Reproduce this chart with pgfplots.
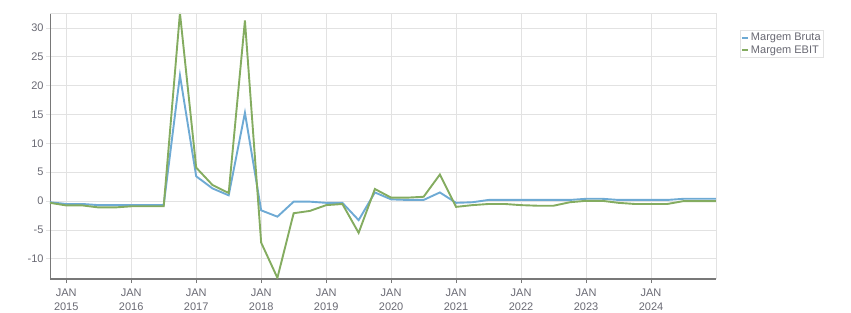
\documentclass[border=0pt]{standalone}
\usepackage{pgfplots}
\pgfplotsset{compat=1.18}
\usepackage{fontspec}
\setmainfont{Liberation Sans}
\definecolor{cBruta}{RGB}{110,170,212}
\definecolor{cEbit}{RGB}{132,172,96}
\definecolor{gridc}{RGB}{226,226,226}
\definecolor{axc}{RGB}{120,120,120}
\definecolor{txt}{RGB}{105,105,115}
\begin{document}
\begin{tikzpicture}
\useasboundingbox (-50bp,-34bp) rectangle (801bp,279bp);
\begin{axis}[
  at={(0,0)}, anchor=south west,
  scale only axis, width=666bp, height=266bp,
  xmin=2014.75, xmax=2025, ymin=-13.5, ymax=32.6,
  xtick={2015,2016,2017,2018,2019,2020,2021,2022,2023,2024},
  xticklabels={JAN\\2015,JAN\\2016,JAN\\2017,JAN\\2018,JAN\\2019,JAN\\2020,JAN\\2021,JAN\\2022,JAN\\2023,JAN\\2024},
  ytick={-10,-5,0,5,10,15,20,25,30},
  grid=major, major grid style={draw=gridc, line width=0.8bp},
  axis lines*=left,
  x axis line style={draw=axc, line width=2bp},
  y axis line style={draw=axc, line width=0.8bp},
  tick align=outside, major tick length=4bp,
  xtick style={draw=axc, line width=0.8bp},
  ytick style={draw=gridc, line width=0.8bp},
  ticklabel style={font=\fontsize{11bp}{14bp}\selectfont, text=txt},
  xticklabel style={align=center, yshift=-2bp},
  yticklabel style={xshift=1bp},
  /pgf/number format/assume math mode=true,
  legend style={at={(1.036,0.936)}, anchor=north west, draw=gridc, line width=0.8bp,
    font=\fontsize{11bp}{13bp}\selectfont, text=txt, inner sep=1bp, row sep=-1bp},
  legend cell align=left,
  legend image code/.code={\draw[#1, line width=1.6bp] (0bp,0bp) -- (6bp,0bp);},
  after end axis/.code={\draw[gridc, line width=0.8bp] (rel axis cs:0,1) -- (rel axis cs:1,1) -- (rel axis cs:1,0);},
]
\addplot[cBruta, line width=1.9bp] coordinates {
(2014.75,-0.2) (2015.0,-0.5) (2015.25,-0.5) (2015.5,-0.7) (2015.75,-0.7) (2016.0,-0.7) (2016.25,-0.7) (2016.5,-0.7)
(2016.75,21.8) (2017.0,4.3) (2017.25,2.2) (2017.5,1.0) (2017.75,15.3) (2018.0,-1.6) (2018.25,-2.7) (2018.5,-0.1)
(2018.75,-0.1) (2019.0,-0.3) (2019.25,-0.3) (2019.5,-3.3) (2019.75,1.5) (2020.0,0.3) (2020.25,0.2) (2020.5,0.2)
(2020.75,1.5) (2021.0,-0.3) (2021.25,-0.2) (2021.5,0.2) (2021.75,0.2) (2022.0,0.2) (2022.25,0.2) (2022.5,0.2)
(2022.75,0.2) (2023.0,0.4) (2023.25,0.4) (2023.5,0.2) (2023.75,0.2) (2024.0,0.2) (2024.25,0.2) (2024.5,0.4)
(2024.75,0.4) (2025.0,0.4)
};
\addlegendentry{Margem Bruta}
\addplot[cEbit, line width=1.9bp] coordinates {
(2014.75,-0.3) (2015.0,-0.75) (2015.25,-0.75) (2015.5,-1.1) (2015.75,-1.1) (2016.0,-0.9) (2016.25,-0.9) (2016.5,-0.9)
(2016.75,32.6) (2017.0,5.8) (2017.25,2.8) (2017.5,1.4) (2017.75,31.3) (2018.0,-7.2) (2018.25,-13.3) (2018.5,-2.1)
(2018.75,-1.7) (2019.0,-0.7) (2019.25,-0.5) (2019.5,-5.5) (2019.75,2.1) (2020.0,0.6) (2020.25,0.6) (2020.5,0.75)
(2020.75,4.6) (2021.0,-1.0) (2021.25,-0.7) (2021.5,-0.5) (2021.75,-0.5) (2022.0,-0.7) (2022.25,-0.8) (2022.5,-0.8)
(2022.75,-0.2) (2023.0,0.05) (2023.25,0.05) (2023.5,-0.3) (2023.75,-0.5) (2024.0,-0.5) (2024.25,-0.5) (2024.5,0.0)
(2024.75,0.0) (2025.0,0.0)
};
\addlegendentry{Margem EBIT}
\end{axis}
\end{tikzpicture}
\end{document}
